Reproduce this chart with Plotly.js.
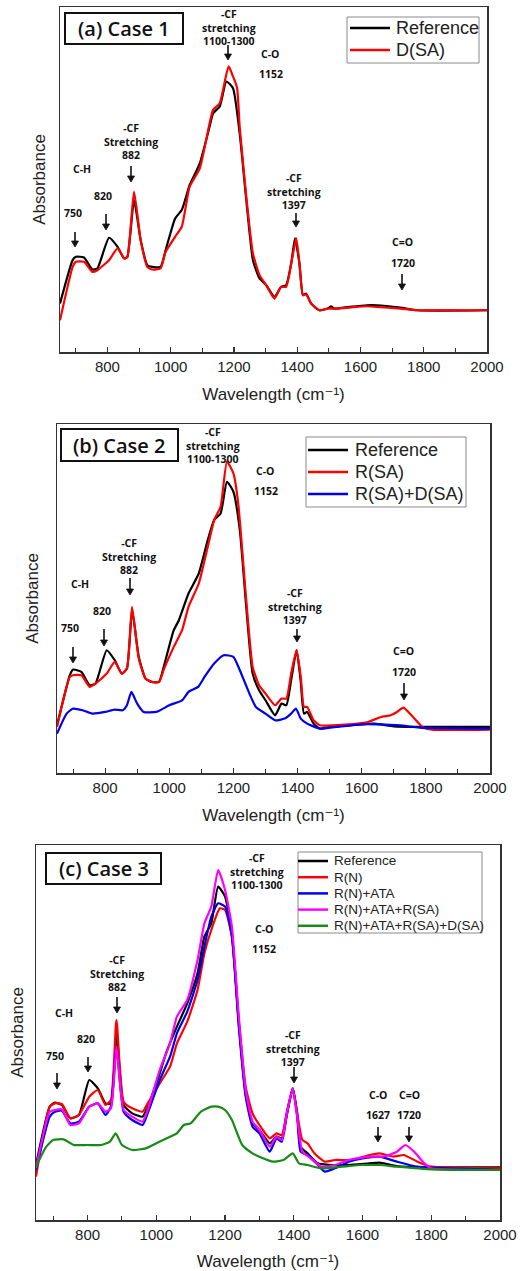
<!DOCTYPE html>
<html>
<head>
<meta charset="utf-8">
<script src="https://cdn.plot.ly/plotly-3.0.1.min.js"></script>
<style>html,body{margin:0;padding:0;background:#fff;}#chart{width:520px;height:1271px;}</style>
</head>
<body>
<div id="chart"></div>
<script>
// ---------------- DATA (arbitrary absorbance units) ----------------
// Panel (a) Case 1
const aRefX = [650,690,700,726,752,768,805,832,853,863,884,905,926,942,968,984,1014,1035,1060,1092,1123,1134,1155,1176,1197,1218,1239,1260,1281,1302,1328,1349,1365,1381,1393,1407,1418,1428,1444,1470,1496,1507,1517,1565,1620,1650,1726,1780,2000];
const aRefY = [145,275,285,283,247,250,342,315,280,285,455,335,260,255,255,305,400,425,500,565,675,715,735,810,790,655,455,275,220,200,165,195,200,265,340,265,170,175,145,125,130,137,130,135,140,140,133,125,125];
const aDsaX = [650,690,700,726,752,768,805,832,853,863,884,905,926,942,968,984,1014,1035,1060,1092,1123,1134,1155,1183,1197,1210,1218,1239,1260,1281,1302,1328,1349,1365,1381,1397,1407,1418,1428,1444,1470,1496,1517,1565,1620,1650,1726,1780,2000];
const aDsaY = [95,255,270,270,240,245,275,310,280,285,480,335,255,247,250,300,345,375,495,550,685,725,745,855,825,790,675,465,295,230,200,160,195,195,265,340,265,170,173,145,125,130,130,133,137,135,130,125,125];

// Panel (b) Case 2
const bRefX = [650,690,700,726,752,770,805,830,852,868,884,905,926,945,968,984,1014,1030,1060,1092,1120,1140,1160,1180,1200,1220,1240,1260,1280,1300,1330,1350,1365,1380,1397,1410,1420,1430,1450,1470,1510,1560,1640,1700,1800,2000];
const bRefY = [143,293,310,303,263,268,368,338,298,313,488,348,283,273,273,323,428,458,538,598,698,758,778,873,843,728,498,298,248,218,173,208,203,278,368,273,178,183,148,133,140,143,148,140,138,138];
const bRsaX = [650,690,700,726,752,770,805,830,852,868,884,905,926,945,968,984,1014,1040,1060,1092,1120,1140,1160,1180,1200,1215,1240,1260,1280,1300,1330,1350,1365,1380,1397,1410,1420,1430,1450,1470,1510,1560,1620,1660,1690,1710,1730,1760,1790,1820,2000];
const bRsaY = [138,288,293,293,258,268,298,333,298,313,498,343,283,273,273,313,378,428,498,568,678,758,798,933,898,808,518,318,263,238,203,223,223,298,368,288,198,198,158,143,143,146,153,168,173,183,196,168,138,130,130];
const bRdX = [650,680,700,730,760,800,830,855,868,882,900,920,960,1000,1040,1060,1090,1110,1140,1170,1200,1220,1250,1270,1300,1330,1360,1380,1395,1410,1430,1470,1520,1600,1650,1720,1780,2000];
const bRdY = [118,178,193,188,178,183,190,188,203,243,208,183,183,203,218,243,258,288,328,353,348,308,238,198,178,158,163,178,193,163,148,133,138,146,146,143,136,133];

// Panel (c) Case 3
const cRefX = [650,690,705,725,750,775,805,830,852,868,884,905,930,960,975,1010,1030,1060,1090,1120,1140,1160,1180,1200,1220,1240,1260,1280,1300,1330,1350,1365,1380,1397,1410,1420,1440,1470,1510,1560,1620,1650,1700,1800,2000];
const cRefY = [165,340,352,345,305,315,420,395,350,350,560,345,320,310,340,440,505,580,650,740,850,890,1000,970,860,590,380,290,270,230,250,245,320,395,320,220,200,170,165,165,170,172,162,158,158];
const cRnX = [650,690,705,725,750,775,805,830,852,868,884,905,930,960,975,1010,1040,1060,1090,1120,1140,1160,1185,1200,1220,1240,1260,1280,1300,1330,1350,1365,1380,1397,1410,1425,1440,1460,1490,1520,1570,1620,1650,1690,1720,1760,1800,2000];
const cRnY = [130,340,350,348,305,315,370,390,345,360,600,355,335,325,350,410,460,530,595,690,800,870,935,930,850,600,400,320,285,245,260,255,325,395,320,240,230,200,175,180,180,195,200,190,195,175,160,155];
const cAtaX = [650,690,705,725,750,775,805,830,852,868,884,905,930,960,975,1010,1040,1060,1090,1120,1140,1160,1180,1200,1220,1240,1260,1280,1300,1330,1350,1365,1380,1397,1410,1420,1440,1470,1490,1520,1560,1600,1650,1700,1760,2000];
const cAtaY = [150,310,325,328,290,295,340,350,315,340,520,325,300,285,320,420,490,560,625,720,820,910,950,940,850,580,370,280,260,205,245,235,315,395,310,205,195,165,145,155,175,185,190,175,160,150];
const cRsaX = [650,690,705,725,750,775,805,830,852,868,884,905,930,960,975,1010,1040,1060,1090,1120,1140,1160,1180,1200,1220,1240,1260,1280,1300,1330,1350,1365,1380,1397,1410,1425,1450,1480,1520,1560,1620,1660,1700,1725,1750,1780,1800,2000];
const cRsaY = [155,325,330,332,285,290,340,350,325,335,520,330,310,295,330,450,530,610,660,780,890,940,1050,990,880,610,390,295,270,220,250,240,320,395,310,205,185,160,165,180,190,190,205,225,205,170,155,150];
const cDsaX = [650,680,700,730,760,800,840,865,882,900,930,970,1000,1040,1060,1080,1100,1130,1160,1180,1200,1220,1250,1280,1300,1340,1370,1397,1415,1440,1480,1540,1600,1650,1700,1800,2000];
const cDsaY = [160,220,240,242,225,225,225,235,260,225,210,215,230,250,260,285,290,325,340,340,330,300,225,200,190,175,180,200,170,165,155,160,165,165,160,152,150];

const legendA = ['Reference', 'D(SA)'];
const legendB = ['Reference', 'R(SA)', 'R(SA)+D(SA)'];
const legendC = ['Reference', 'R(N)', 'R(N)+ATA', 'R(N)+ATA+R(SA)', 'R(N)+ATA+R(SA)+D(SA)'];
const caseTitles = ['(a) Case 1', '(b) Case 2', '(c) Case 3'];
const xTicks = [800, 1000, 1200, 1400, 1600, 1800, 2000];
const xTitle = 'Wavelength (cm\u207B\u00B9)';
const yTitle = 'Absorbance';

// ---------------- LAYOUT HELPERS ----------------
const W = 520, H = 1271;
const px = x => x / W;
const py = y => 1 - y / H;
const COL = {k: '#000000', r: '#ff0000', b: '#0000ee', m: '#ff00ff', g: '#178a17'};
const SANS = 'Liberation Sans, Arial, DejaVu Sans, sans-serif';
const BOLD = 'Open Sans, Noto Sans, sans-serif';

function tr(x, y, name, color, xa, ya) {
  return {x: x, y: y, name: name, type: 'scatter', mode: 'lines',
    line: {color: color, width: 2.2, shape: 'spline', smoothing: 0.5},
    xaxis: xa, yaxis: ya, showlegend: false, hoverinfo: 'skip'};
}

const data = [
  tr(aRefX, aRefY, legendA[0], COL.k, 'x', 'y'),
  tr(aDsaX, aDsaY, legendA[1], COL.r, 'x', 'y'),
  tr(bRefX, bRefY, legendB[0], COL.k, 'x2', 'y2'),
  tr(bRsaX, bRsaY, legendB[1], COL.r, 'x2', 'y2'),
  tr(bRdX, bRdY, legendB[2], COL.b, 'x2', 'y2'),
  tr(cRefX, cRefY, legendC[0], COL.k, 'x3', 'y3'),
  tr(cRnX, cRnY, legendC[1], COL.r, 'x3', 'y3'),
  tr(cAtaX, cAtaY, legendC[2], COL.b, 'x3', 'y3'),
  tr(cRsaX, cRsaY, legendC[3], COL.m, 'x3', 'y3'),
  tr(cDsaX, cDsaY, legendC[4], COL.g, 'x3', 'y3'),
];

function xax(l, r, anchor, standoff) {
  return {domain: [px(l), px(r)], anchor: anchor, range: [650, 2000],
    tickvals: xTicks, ticks: 'inside', ticklen: 5, tickwidth: 1.2, tickcolor: '#333',
    minor: {dtick: 100, tick0: 0, ticks: 'inside', ticklen: 4, tickwidth: 1, tickcolor: '#333', showgrid: false},
    showgrid: false, zeroline: false, showline: true, linecolor: '#333', linewidth: 1.5, mirror: true,
    tickfont: {family: SANS, size: 15, color: '#222'},
    title: {text: xTitle, font: {family: SANS, size: 17, color: '#222'}, standoff: standoff},
    fixedrange: true};
}
function yax(t, b, anchor, top, standoff) {
  return {domain: [py(b), py(t)], anchor: anchor, range: [0, top],
    showticklabels: false, ticks: '', showgrid: false, zeroline: false,
    showline: true, linecolor: '#333', linewidth: 1.5, mirror: true,
    title: {text: yTitle, font: {family: SANS, size: 17, color: '#222'}, standoff: standoff},
    fixedrange: true};
}

// annotation text labels: [text, xpix, ypix]
const labelDefs = [
  // panel a
  ['-CF<br>stretching<br>1100-1300',229,28],['C-O',270,54],['1152',271,74],
  ['-CF<br>Stretching<br>882',131,142],['C-H',82,169],['820',103,196],['750',73,213],
  ['-CF<br>stretching<br>1397',294,191],['C=O',402,242],['1720',403,263],
  // panel b
  ['-CF<br>stretching<br>1100-1300',213,445],['C-O',265,471],['1152',266,491],
  ['-CF<br>Stretching<br>882',129,556],['C-H',80,584],['820',102,611],['750',70,628],
  ['-CF<br>stretching<br>1397',295,606],['C=O',403,651],['1720',404,672],
  // panel c
  ['-CF<br>stretching<br>1100-1300',257,871],['C-O',264,929],['1152',264,949],
  ['-CF<br>Stretching<br>882',117,973],['C-H',64,1013],['820',86,1039],['750',55,1056],
  ['-CF<br>stretching<br>1397',293,1048],['C-O',378,1095],['1627',378,1115],
  ['C=O',409,1095],['1720',409,1115],
];
// arrows: [xpix, tip ypix, length]
const arrowDefs = [
  [228,60,15],[131,182,16],[106,230,16],[75,247,15],[296,227,14],[402,290,16],
  [130,595,17],[104,646,17],[73,663,16],[297,642,13],[404,700,17],
  [117,1013,16],[88,1072,15],[57,1089,16],[294,1083,16],[378,1142,15],[409,1142,15],
];
const caseBoxes = [[65,13,183,44],[61,429,178,461],[46,853,161,884]];
// legend boxes: [left, top, right, bottom, lineX0, lineX1, textX, firstY, step, fontSize]
const legendBoxes = [
  [347,17,479,63,350,390,394,28,22,18],
  [306,437,466,507,308,348,353,450,22,18],
  [298,852,482,933,298,328,332,861,16.2,13.5],
];
const legendSets = [[legendA, [COL.k, COL.r]], [legendB, [COL.k, COL.r, COL.b]], [legendC, [COL.k, COL.r, COL.b, COL.m, COL.g]]];

const annotations = [];
const shapes = [];
labelDefs.forEach(d => annotations.push({text: '<b>' + d[0] + '</b>', x: px(d[1]), y: py(d[2]),
  xref: 'paper', yref: 'paper', xanchor: 'center', yanchor: 'middle', showarrow: false,
  font: {family: BOLD, size: 10.5, color: '#111'}}));
arrowDefs.forEach(d => {
  const x = d[0], tip = d[1], len = d[2];
  shapes.push({type: 'line', xref: 'paper', yref: 'paper', x0: px(x), x1: px(x), y0: py(tip - len), y1: py(tip - 5),
    line: {color: '#111', width: 1.6}});
  shapes.push({type: 'path', xref: 'paper', yref: 'paper',
    path: 'M' + px(x - 3.5) + ',' + py(tip - 6) + ' L' + px(x + 3.5) + ',' + py(tip - 6) + ' L' + px(x) + ',' + py(tip) + ' Z',
    fillcolor: '#111', line: {color: '#111', width: 0.8}});
});
caseBoxes.forEach((b, i) => {
  shapes.push({type: 'rect', xref: 'paper', yref: 'paper', x0: px(b[0]), x1: px(b[2]), y0: py(b[3]), y1: py(b[1]),
    line: {color: '#111', width: 2}, fillcolor: 'rgba(0,0,0,0)'});
  annotations.push({text: caseTitles[i], x: px((b[0] + b[2]) / 2), y: py((b[1] + b[3]) / 2), xref: 'paper', yref: 'paper',
    xanchor: 'center', yanchor: 'middle', showarrow: false,
    font: {family: BOLD, size: 20, color: '#111', weight: 600}});
});
legendBoxes.forEach((b, i) => {
  shapes.push({type: 'rect', xref: 'paper', yref: 'paper', x0: px(b[0]), x1: px(b[2]), y0: py(b[3]), y1: py(b[1]),
    line: {color: '#8a8a8a', width: 1}, fillcolor: '#ffffff', layer: 'above'});
  const names = legendSets[i][0], cols = legendSets[i][1];
  names.forEach((n, j) => {
    const y = b[7] + j * b[8];
    shapes.push({type: 'line', xref: 'paper', yref: 'paper', x0: px(b[4]), x1: px(b[5]), y0: py(y), y1: py(y),
      line: {color: cols[j], width: 2.5}, layer: 'above'});
    annotations.push({text: n, x: px(b[6]), y: py(y), xref: 'paper', yref: 'paper', xanchor: 'left', yanchor: 'middle',
      showarrow: false, font: {family: SANS, size: b[9], color: '#222'}});
  });
});

const layout = {
  width: W, height: H, margin: {l: 0, r: 0, t: 0, b: 0},
  paper_bgcolor: '#fff', plot_bgcolor: '#fff', showlegend: false,
  xaxis: xax(60, 487, 'y', 14), yaxis: yax(7, 352, 'x', 1033, 8),
  xaxis2: xax(57, 490, 'y2', 14), yaxis2: yax(424, 773, 'x2', 1046, 12),
  xaxis3: xax(36, 500, 'y3', 14), yaxis3: yax(845, 1220, 'x3', 1125, 6),
  annotations: annotations, shapes: shapes,
};

Plotly.newPlot('chart', data, layout, {staticPlot: true, displayModeBar: false});
</script>
</body>
</html>
